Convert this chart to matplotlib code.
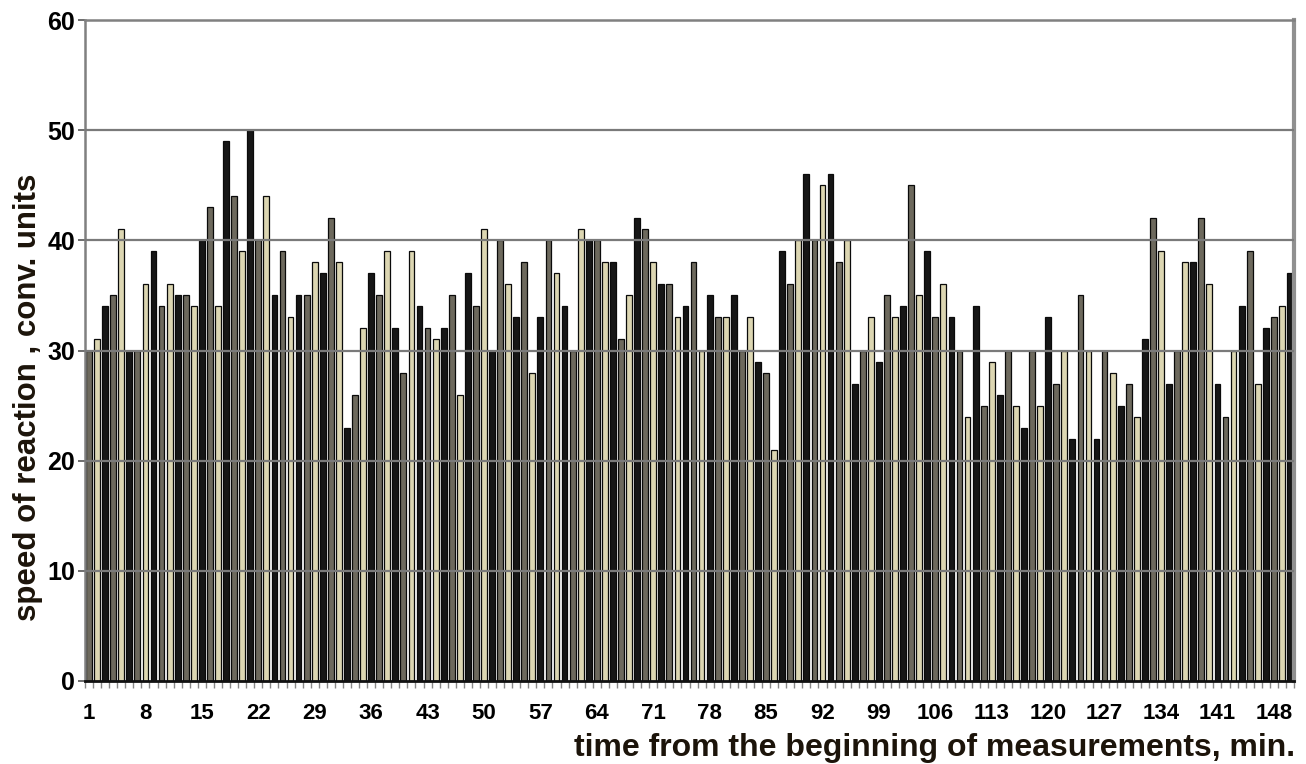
import numpy as np
import matplotlib
matplotlib.use("Agg")
import matplotlib.pyplot as plt

plt.rcParams['font.family'] = ['Liberation Sans', 'DejaVu Sans']

# ---- data ----
minutes = list(range(1, 151))
speed = [30, 31, 34, 35, 41, 30, 30, 36, 39, 34, 36, 35, 35, 34, 40, 43, 34, 49, 44, 39,
         50, 40, 44, 35, 39, 33, 35, 35, 38, 37, 42, 38, 23, 26, 32, 37, 35, 39, 32, 28,
         39, 34, 32, 31, 32, 35, 26, 37, 34, 41, 30, 40, 36, 33, 38, 28, 33, 40, 37, 34,
         30, 41, 40, 40, 38, 38, 31, 35, 42, 41, 38, 36, 36, 33, 34, 38, 30, 35, 33, 33,
         35, 30, 33, 29, 28, 21, 39, 36, 40, 46, 40, 45, 46, 38, 40, 27, 30, 33, 29, 35,
         33, 34, 45, 35, 39, 33, 36, 33, 30, 24, 34, 25, 29, 26, 30, 25, 23, 30, 25, 33,
         27, 30, 22, 35, 30, 22, 30, 28, 25, 27, 24, 31, 42, 39, 27, 30, 38, 38, 42, 36,
         27, 24, 30, 34, 39, 27, 32, 33, 34, 37]
xtick_labels = [str(m) for m in range(1, 151, 7)]
yticks = [0, 10, 20, 30, 40, 50, 60]

# ---- style ----
shades = ['#6d695d', '#dcd6b2', '#161616']
colors = [shades[i % 3] for i in range(len(minutes))]

fig = plt.figure(figsize=(13.06, 7.64), dpi=100)
ax = fig.add_axes([85/1306, 1-681/764, (1294-85)/1306, (681-20)/764])

ax.bar(minutes, speed, width=0.72, color=colors, edgecolor='#0a0a0a',
       linewidth=0.9, zorder=2)

ax.set_xlim(0.5, 150.5)
ax.set_ylim(0, 60)

for y in yticks[1:-1]:
    ax.axhline(y, color='#7a7a7a', lw=1.6, zorder=3)

ax.set_yticks(yticks)
ax.set_yticklabels([str(v) for v in yticks], fontsize=18, fontweight='bold')
ax.tick_params(axis='y', length=5, width=1.2, color='#555555', pad=2)

ax.set_xticks(list(range(1, 151, 7)))
ax.set_xticklabels(xtick_labels, fontsize=16, fontweight='bold')
ax.tick_params(axis='x', which='major', length=0, pad=16)
ax.set_xticks(np.arange(0.5, 151, 1), minor=True)
ax.tick_params(axis='x', which='minor', length=5, width=1.0, color='#888888')

for s in ['left', 'top']:
    ax.spines[s].set_color('#808080')
    ax.spines[s].set_linewidth(1.8)
ax.spines['right'].set_color('#909090')
ax.spines['right'].set_linewidth(3)
ax.spines['bottom'].set_color('#111111')
ax.spines['bottom'].set_linewidth(2)
ax.spines['bottom'].set_zorder(4)

fig.text(28/1306, 1-397/764, 'speed of reaction , conv. units', rotation=90,
         fontsize=22.5, fontweight='bold', color='#1c140a', ha='center', va='center')
fig.text(1295/1306, 1-748/764, 'time from the beginning of measurements, min.',
         fontsize=23, fontweight='bold', color='#1c140a', ha='right', va='center')

fig.savefig('out.png', dpi=100)
